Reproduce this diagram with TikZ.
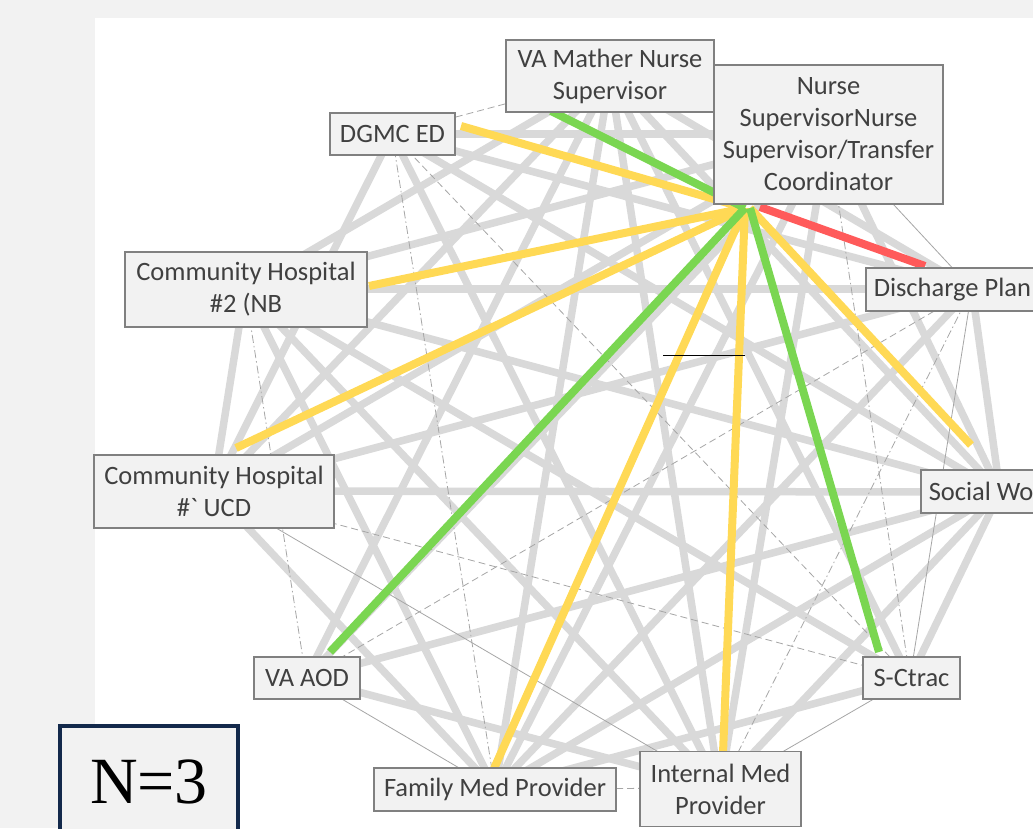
\documentclass[tikz,border=0pt]{standalone}
\usepackage{fontspec}
\setmainfont{Carlito}[Ligatures=TeXOff]
\newfontfamily\nfont{Liberation Serif}
\definecolor{bggray}{HTML}{F2F2F2}
\definecolor{lgray}{HTML}{D9D9D9}
\definecolor{tgray}{HTML}{A6A6A6}
\definecolor{bordgray}{HTML}{808080}
\definecolor{txtgray}{HTML}{404040}
\definecolor{ylw}{HTML}{FFD955}
\definecolor{grn}{HTML}{7AD651}
\definecolor{rd}{HTML}{FF5A5A}
\definecolor{navy}{HTML}{13294B}
\begin{document}
\begin{tikzpicture}[x=1pt,y=-1pt,
  gw/.style={line width=7.5pt, draw=lgray},
  tn/.style={line width=0.8pt, draw=tgray},
  tdash/.style={tn, dash pattern=on 7pt off 4pt},
  tdd/.style={tn, dash pattern=on 8pt off 3pt on 1.5pt off 3pt},
  hl/.style={line width=8pt},
  box/.style={draw=bordgray, line width=1.5pt, fill=bggray, text=txtgray,
    font=\fontsize{26.5}{32}\selectfont, inner sep=0pt, align=center},
  cutbox/.style={box, anchor=west, inner xsep=8pt, minimum height=43pt}]
\useasboundingbox (0,0) rectangle (1033,828);
\clip (0,0) rectangle (1033,828);
\fill[bggray] (0,0) rectangle (1033,828);
\fill[white] (95,18) rectangle (1040,840);

% vertices
\coordinate (vM) at (610,76);
\coordinate (vN) at (828,134);
\coordinate (vP) at (972,289);
\coordinate (vS) at (1000,492);
\coordinate (vT) at (910,678);
\coordinate (vI) at (720,788);
\coordinate (vF) at (495,789);
\coordinate (vA) at (306,678);
\coordinate (vU) at (213,491);
\coordinate (vB) at (245,289);
\coordinate (vD) at (392,134);

% thick gray edges
\foreach \a/\b in {M/P,M/S,M/T,M/I,M/F,M/A,M/U,M/B,
  N/S,N/I,N/F,N/A,N/U,N/B,N/D,
  P/S,P/F,P/U,P/B,P/D,
  S/T,S/I,S/F,S/A,S/U,S/B,S/D,
  T/F,T/B,
  I/A,I/B,I/D,
  F/U,F/B,
  U/B,U/D}
  \draw[gw] (v\a) -- (v\b);

% thin edges
\foreach \a/\b in {N/P,P/T,U/I,A/F,T/I}
  \draw[tn] (v\a) -- (v\b);
\foreach \a/\b in {D/M,D/T,P/A,U/T,F/I}
  \draw[tdash] (v\a) -- (v\b);
\foreach \a/\b in {D/F,N/T,B/A,P/I}
  \draw[tdd] (v\a) -- (v\b);

% highlighted links from the transfer coordinator
\coordinate (h) at (745,208);
\coordinate (h2) at (750,208);
\coordinate (eM) at (551,111);
\coordinate (eD) at (461,126);
\coordinate (eB) at (369,286);
\coordinate (eU) at (236,448);
\coordinate (eA) at (330,652);
\coordinate (eF) at (492,773);
\coordinate (eI) at (723,753);
\coordinate (eT) at (879,652);
\coordinate (eS) at (971,445);
\coordinate (r1) at (760,207);
\coordinate (r2) at (925,266);
\foreach \e in {eD,eB,eU,eF,eI}
  \draw[hl, draw=ylw] (h) -- (\e);
\draw[hl, draw=ylw] (h2) -- (eS);
\draw[hl, draw=grn] (h) -- (eM);
\draw[hl, draw=grn] (h) -- (eA);
\draw[hl, draw=grn] (h2) -- (eT);
\draw[hl, draw=rd] (r1) -- (r2);

% short black mark
\coordinate (k1) at (663,355);
\coordinate (k2) at (745,355);
\draw[black, line width=1pt] (k1) -- (k2);

% boxes
\node[box, minimum width=208pt, minimum height=72pt] (M) at (610,76) {VA Mather Nurse\\Supervisor};
\node[box, minimum width=229pt, minimum height=139pt] (N) at (828.5,134.5) {Nurse\\SupervisorNurse\\Supervisor/Transfer\\Coordinator};
\node[box, minimum width=125pt, minimum height=42pt] (D) at (392.5,134) {DGMC ED};
\node[box, minimum width=242pt, minimum height=75pt] (B) at (246,289.5) {Community Hospital\\\#2 (NB};
\node[box, minimum width=240pt, minimum height=73pt] (U) at (214,491.5) {Community Hospital\\\#` UCD};
\node[cutbox] (P) at (865,289.5) {Discharge Plan};
\node[cutbox] (S) at (920,491.5) {Social Wo};
\node[box, minimum width=97pt, minimum height=42pt] (T) at (911.5,678) {S-Ctrac};
\node[box, minimum width=161pt, minimum height=75pt] (I) at (720.5,789) {Internal Med\\Provider};
\node[box, minimum width=242pt, minimum height=43pt] (F) at (495,789.5) {Family Med Provider};
\node[box, minimum width=106pt, minimum height=42pt] (A) at (307,678) {VA AOD};

% N=3 label
\node[draw=navy, line width=4pt, fill=bggray, minimum width=178pt, minimum height=112pt,
  inner sep=0pt, font=\nfont\fontsize{66}{70}\selectfont] (n3) at (149,782) {N=3};
\end{tikzpicture}
\end{document}
